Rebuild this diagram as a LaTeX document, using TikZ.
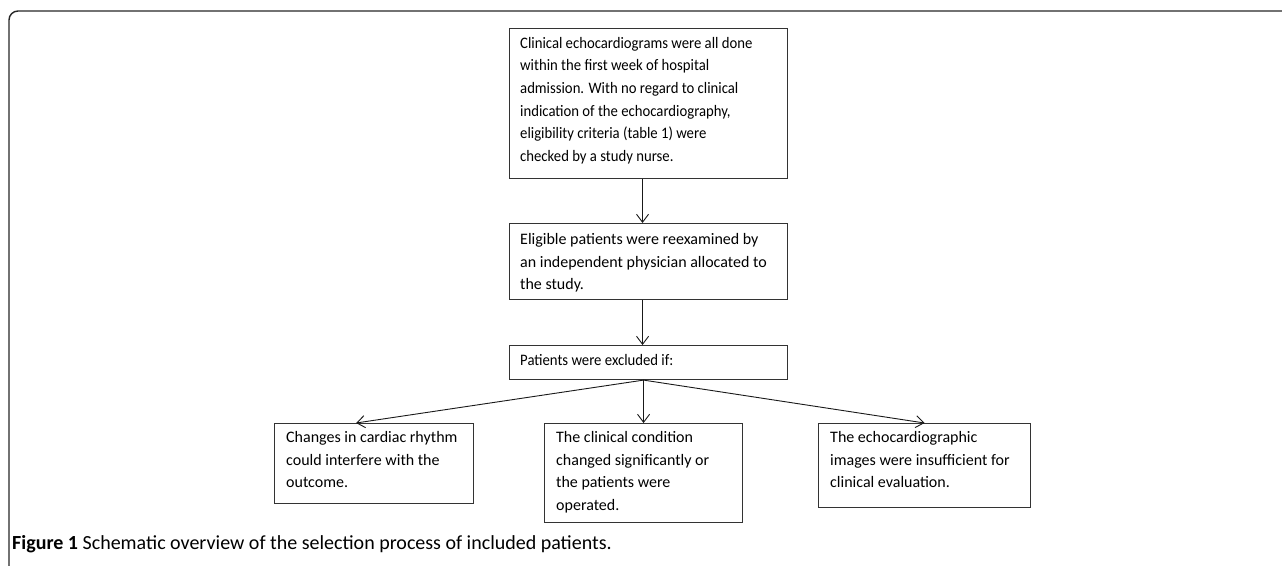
\documentclass[tikz,border=0pt]{standalone}
\usepackage{fontspec}
\setmainfont{Carlito}
\newfontfamily\condfont[FakeStretch=0.92]{Carlito}
\usetikzlibrary{arrows.meta}
\tikzset{
  box/.style={draw=black!80, line width=1.1pt, inner sep=0pt, anchor=north west, fill=none},
  txt/.style={inner sep=0pt, anchor=north west, align=left, font=\condfont\fontsize{16}{22.6}\selectfont},
  bigtxt/.style={txt, font=\fontsize{16}{22.8}\selectfont},
  conn/.style={draw=black!90, line width=0.9pt, -{Straight Barb[length=8pt,width=12pt,line width=0.9pt]}},
  frame/.style={draw=black!85, line width=1.4pt, rounded corners=9pt}
}
\begin{document}
\begin{tikzpicture}[x=1pt,y=-1pt]
\useasboundingbox (0,0) rectangle (1282,565);
\draw[frame] (9,567) -- (9,11) -- (1284,11);

\node[box, minimum width=278pt, minimum height=150pt] (b1) at (509,28) {};
\node[txt] (t1) at (520,37) {Clinical echocardiograms were all done\\within the first week of hospital\\admission. With no regard to clinical\\indication of the echocardiography,\\eligibility criteria (table 1) were\\checked by a study nurse.};

\node[box, minimum width=278pt, minimum height=76pt] (b2) at (509,223) {};
\node[bigtxt] (t2) at (520,233) {Eligible patients were reexamined by\\an independent physician allocated to\\the study.};

\node[box, minimum width=278pt, minimum height=34pt] (b3) at (509,345) {};
\node[txt] (t3) at (520,354) {Patients were excluded if:};

\node[box, minimum width=199pt, minimum height=80pt] (b4) at (274,423) {};
\node[bigtxt] (t4) at (286,431) {Changes in cardiac rhythm\\could interfere with the\\outcome.};

\node[box, minimum width=198pt, minimum height=99pt] (b5) at (544,423) {};
\node[bigtxt] (t5) at (556,431) {The clinical condition\\changed significantly or\\the patients were\\operated.};

\node[box, minimum width=212pt, minimum height=84pt] (b6) at (818,423) {};
\node[bigtxt] (t6) at (830,431) {The echocardiographic\\images were insufficient for\\clinical evaluation.};

\coordinate (s1) at ([xshift=-6pt]b1.south);
\coordinate (e2) at ([xshift=-6pt]b2.north);
\coordinate (s2) at ([xshift=-6pt]b2.south);
\coordinate (e3) at ([xshift=-6pt]b3.north);
\coordinate (s3) at ([xshift=-5pt]b3.south);
\coordinate (e4) at ([xshift=-18pt]b4.north);
\coordinate (e5) at (b5.north);
\coordinate (e6) at (b6.north);

\draw[conn] (s1) -- (e2);
\draw[conn] (s2) -- (e3);
\draw[conn] (s3) -- (e4);
\draw[conn] (s3) -- (e5);
\draw[conn] (s3) -- (e6);

\node[anchor=base west, inner sep=0pt, font=\fontsize{20}{22}\selectfont] (cap) at (12,549) {\textbf{Figure 1} Schematic overview of the selection process of included patients.};
\end{tikzpicture}
\end{document}
